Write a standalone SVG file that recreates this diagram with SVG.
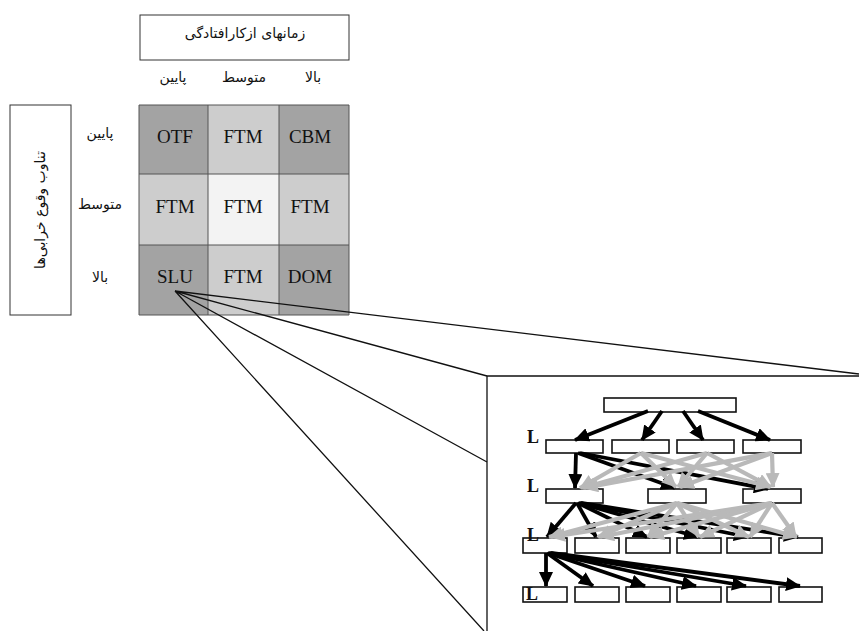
<svg xmlns="http://www.w3.org/2000/svg" width="859" height="631" viewBox="0 0 859 631">
<style>
.fa{font-family:"DejaVu Sans","Noto Sans",sans-serif;font-size:14px;fill:#111;text-anchor:middle}
.cell{font-family:"Liberation Serif",serif;font-size:19px;fill:#111;text-anchor:middle}
.box{fill:#fff;stroke:#333;stroke-width:1}
.g{stroke:#555;stroke-width:1}
.rb{fill:#fff;stroke:#111;stroke-width:1.6}
.L{font-family:"Liberation Serif",serif;font-size:18px;font-weight:bold;fill:#111}
.ka{stroke:#000;stroke-width:3.8;fill:none;marker-end:url(#hk)}
.ga{stroke:#b9b9b9;stroke-width:4.2;fill:none;marker-end:url(#hg)}
.zl{stroke:#111;stroke-width:1.3;fill:none}
</style>
<defs>
<marker id="hk" markerUnits="userSpaceOnUse" markerWidth="15" markerHeight="14" refX="14" refY="7" orient="auto"><path d="M0,0 L15,7 L0,14 z" fill="#000"/></marker>
<marker id="hg" markerUnits="userSpaceOnUse" markerWidth="15" markerHeight="14" refX="14" refY="7" orient="auto"><path d="M0,0 L15,7 L0,14 z" fill="#b9b9b9"/></marker>
</defs>
<rect width="859" height="631" fill="#fff"/>

<g id="time-header">
<rect class="box" x="140" y="15" width="209" height="45"/>
<text class="fa" x="245" y="38">زمانهای ازکارافتادگی</text>
<text class="fa" x="173" y="82">پایین</text>
<text class="fa" x="244" y="82">متوسط</text>
<text class="fa" x="313" y="82">بالا</text>
</g>

<g id="freq-header">
<rect class="box" x="10" y="105" width="61" height="210"/>
<text class="fa" transform="translate(45,210) rotate(-90)" x="0" y="0">تناوب وقوع خرابی‌ها</text>
<text class="fa" x="100" y="138">پایین</text>
<text class="fa" x="100" y="209">متوسط</text>
<text class="fa" x="100" y="282">بالا</text>
</g>

<g id="matrix">
<rect x="139" y="105" width="69" height="69" fill="#a3a3a3"/>
<rect x="208" y="105" width="71" height="69" fill="#cdcdcd"/>
<rect x="279" y="105" width="70" height="69" fill="#a3a3a3"/>
<rect x="139" y="174" width="69" height="71" fill="#cdcdcd"/>
<rect x="208" y="174" width="71" height="71" fill="#f3f3f3"/>
<rect x="279" y="174" width="70" height="71" fill="#cdcdcd"/>
<rect x="139" y="245" width="69" height="70" fill="#a3a3a3"/>
<rect x="208" y="245" width="71" height="70" fill="#cdcdcd"/>
<rect x="279" y="245" width="70" height="70" fill="#a3a3a3"/>
<path class="g" d="M139,105H349V315H139Z M208,105V315 M279,105V315 M139,174H349 M139,245H349" fill="none"/>
<text class="cell" x="175" y="143">OTF</text>
<text class="cell" x="243" y="143">FTM</text>
<text class="cell" x="310" y="143">CBM</text>
<text class="cell" x="175" y="213">FTM</text>
<text class="cell" x="243" y="213">FTM</text>
<text class="cell" x="310" y="213">FTM</text>
<text class="cell" x="175" y="283">SLU</text>
<text class="cell" x="243" y="283">FTM</text>
<text class="cell" x="310" y="283">DOM</text>
</g>

<g id="zoom-lines">
<path class="zl" d="M175,291 L859,374 M175,291 L487,376 M175,291 L487,462 M175,291 L484,631"/>
<path class="zl" d="M487,631 V376 H859"/>
</g>

<g id="hierarchy">
<g id="nodes">
<rect class="rb" x="604" y="398" width="132" height="14"/>
<rect class="rb" x="546" y="440" width="57" height="13"/>
<rect class="rb" x="612" y="440" width="57" height="13"/>
<rect class="rb" x="677" y="440" width="57" height="13"/>
<rect class="rb" x="743" y="440" width="58" height="13"/>
<rect class="rb" x="546" y="489" width="57" height="14"/>
<rect class="rb" x="648" y="489" width="58" height="14"/>
<rect class="rb" x="743" y="489" width="58" height="14"/>
<rect class="rb" x="523" y="538" width="44" height="15"/>
<rect class="rb" x="575" y="538" width="44" height="15"/>
<rect class="rb" x="626" y="538" width="44" height="15"/>
<rect class="rb" x="677" y="538" width="44" height="15"/>
<rect class="rb" x="727" y="538" width="44" height="15"/>
<rect class="rb" x="779" y="538" width="43" height="15"/>
<rect class="rb" x="523" y="587" width="44" height="15"/>
<rect class="rb" x="575" y="587" width="44" height="15"/>
<rect class="rb" x="626" y="587" width="44" height="15"/>
<rect class="rb" x="677" y="587" width="44" height="15"/>
<rect class="rb" x="727" y="587" width="44" height="15"/>
<rect class="rb" x="779" y="587" width="43" height="15"/>
<text class="L" x="527" y="443">L</text>
<text class="L" x="527" y="492">L</text>
<text class="L" x="527" y="541">L</text>
<text class="L" x="526" y="600">L</text>
</g>
<g id="connectors">
<path class="ka" d="M648,411 L575,440"/>
<path class="ka" d="M662,411 L642,440"/>
<path class="ka" d="M683,411 L703,440"/>
<path class="ka" d="M698,411 L770,440"/>

<path class="ka" d="M576,453 L575,488"/>
<path class="ka" d="M578,453 L675,488"/>
<path class="ka" d="M580,453 L768,489"/>
<path class="ga" d="M641,453 L580,488"/>
<path class="ga" d="M641,453 L676,487"/>
<path class="ga" d="M641,453 L770,487"/>
<path class="ga" d="M707,453 L582,488"/>
<path class="ga" d="M707,453 L678,487"/>
<path class="ga" d="M707,453 L771,487"/>
<path class="ga" d="M772,453 L584,488"/>
<path class="ga" d="M772,453 L680,487"/>
<path class="ga" d="M772,453 L773,487"/>

<path class="ka" d="M576,503 L547,537"/>
<path class="ka" d="M577,503 L596,537"/>
<path class="ka" d="M578,503 L647,537"/>
<path class="ka" d="M579,503 L698,537"/>
<path class="ka" d="M580,503 L748,537"/>
<path class="ka" d="M581,503 L798,537"/>
<path class="ga" d="M677,503 L549,537"/>
<path class="ga" d="M677,503 L598,537"/>
<path class="ga" d="M677,503 L648,537"/>
<path class="ga" d="M677,503 L699,537"/>
<path class="ga" d="M677,503 L749,537"/>
<path class="ga" d="M677,503 L797,537"/>
<path class="ga" d="M772,503 L551,537"/>
<path class="ga" d="M772,503 L600,537"/>
<path class="ga" d="M772,503 L650,537"/>
<path class="ga" d="M772,503 L700,537"/>
<path class="ga" d="M772,503 L750,537"/>
<path class="ga" d="M772,503 L796,537"/>

<path class="ka" d="M546,553 L546,586"/>
<path class="ka" d="M547,553 L593,586"/>
<path class="ka" d="M548,553 L645,586"/>
<path class="ka" d="M549,553 L696,586"/>
<path class="ka" d="M550,553 L746,586"/>
<path class="ka" d="M551,553 L800,586"/>
</g>
</g>
</svg>
